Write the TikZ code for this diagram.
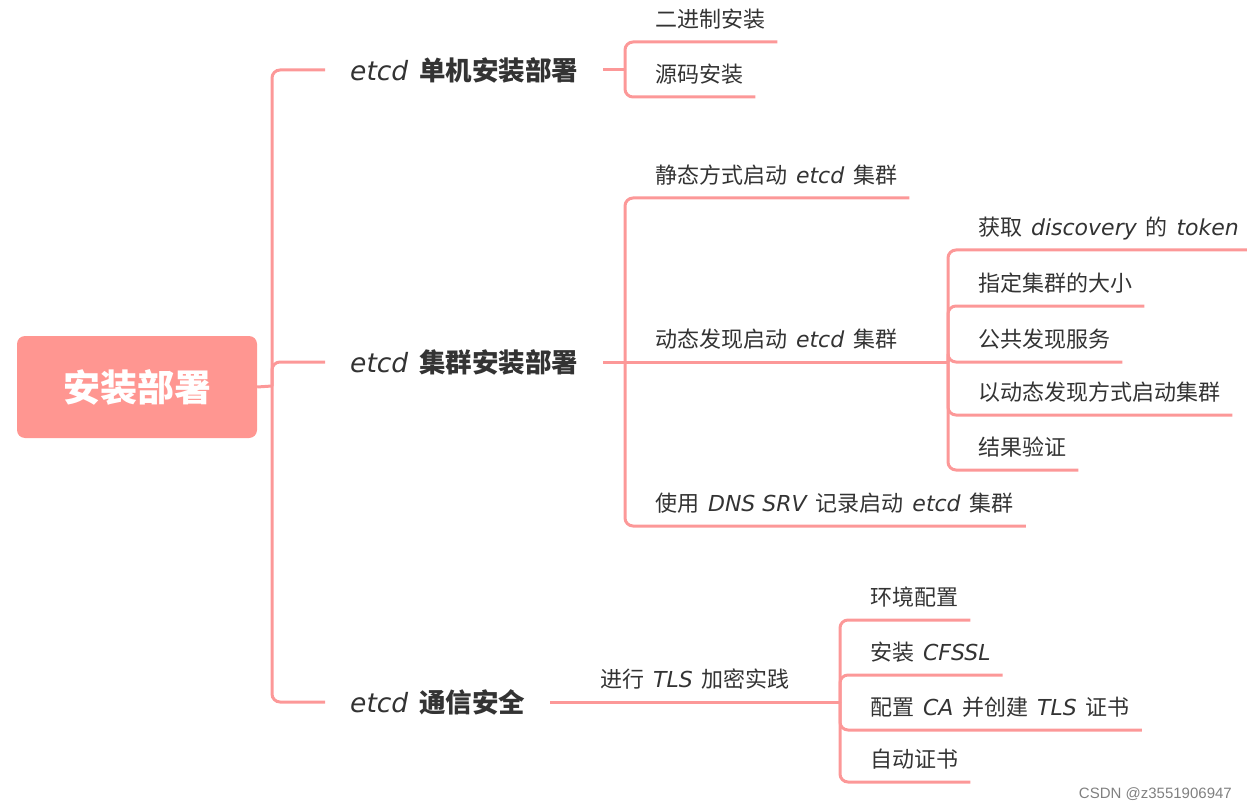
\documentclass[tikz,border=0pt]{standalone}
\usepackage{fontspec}
\setmainfont{Noto Sans CJK SC}
\newfontfamily\cjk{Noto Sans CJK SC}[WordSpace=1.8]
\newfontfamily\latin{DejaVu Sans}
\newfontfamily\wmark{Liberation Sans}
\newcommand\en[1]{{\latin\mdseries\itshape #1}}
\definecolor{linepink}{RGB}{252,152,152}
\definecolor{rootpink}{RGB}{255,150,145}
\definecolor{textgray}{RGB}{51,51,51}
\tikzset{
  branch/.style={draw=linepink, line width=3pt, rounded corners=8pt},
  leaf/.style={anchor=south west, inner xsep=12pt, inner ysep=0pt, text depth=14pt,
    font=\cjk\fontsize{22}{24}\selectfont, text=textgray},
  topic/.style={anchor=west, inner xsep=25pt, inner ysep=4pt,
    font=\cjk\bfseries\fontsize{26.5}{30}\selectfont, text=textgray},
  rootbox/.style={fill=rootpink, rounded corners=8pt, minimum width=240pt,
    minimum height=102pt, text=white, font=\cjk\bfseries\fontsize{37}{40}\selectfont}
}
\begin{document}
\begin{tikzpicture}[x=1pt, y=-1pt]
  \useasboundingbox (0,0) rectangle (1247,810);
  % root
  \node[rootbox] (root) at (137,387) {安装部署};
  % first level
  \node[topic] (single) at (325,70) {\en{etcd} 单机安装部署};
  \node[topic] (cluster) at (325,362) {\en{etcd} 集群安装部署};
  \node[topic] (secure) at (325,702) {\en{etcd} 通信安全};
  \coordinate (hub) at (272,386);
  \draw[branch] (root.east) -- (hub);
  \draw[branch] (hub) |- (single.west);
  \draw[branch] (hub) |- (cluster.west);
  \draw[branch] (hub) |- (secure.west);
  % single node install
  \coordinate (s0) at (625,70);
  \draw[branch] (single.east) -- (s0);
  \node[leaf] (binary) at (643,42) {二进制安装};
  \node[leaf] (source) at (643,97) {源码安装};
  \draw[branch] (s0) |- (binary.south east);
  \draw[branch] (s0) |- (source.south east);
  % cluster install
  \coordinate (c0) at (625,362);
  \coordinate (d0) at (948,362);
  \draw[branch] (cluster.east) -- (c0);
  \node[leaf] (static) at (643,198) {静态方式启动 \en{etcd} 集群};
  \node[leaf] (dynamic) at (643,362) {动态发现启动 \en{etcd} 集群};
  \node[leaf] (dnssrv) at (643,526) {使用 \en{DNS SRV} 记录启动 \en{etcd} 集群};
  \draw[branch] (c0) |- (static.south east);
  \draw[branch] (c0) -- (d0);
  \draw[branch] (c0) |- (dnssrv.south east);
  % dynamic discovery
  \node[leaf] (token) at (966,250) {获取 \en{discovery} 的 \en{token}};
  \node[leaf] (size) at (966,306) {指定集群的大小};
  \node[leaf] (public) at (966,362) {公共发现服务};
  \node[leaf] (boot) at (966,415) {以动态发现方式启动集群};
  \node[leaf] (verify) at (966,470) {结果验证};
  \foreach \leafname in {token,size,public,boot,verify}
    \draw[branch] (d0) |- (\leafname.south east);
  % communication security
  \coordinate (t0) at (840,702);
  \node[leaf] (tls) at (588,702) {进行 \en{TLS} 加密实践};
  \draw[branch] (secure.east) -- (t0);
  \node[leaf] (env) at (858,620) {环境配置};
  \node[leaf] (cfssl) at (858,675) {安装 \en{CFSSL}};
  \node[leaf] (cert) at (858,730) {配置 \en{CA} 并创建 \en{TLS} 证书};
  \node[leaf] (auto) at (858,782) {自动证书};
  \foreach \leafname in {env,cfssl,cert,auto}
    \draw[branch] (t0) |- (\leafname.south east);
  % watermark
  \node[anchor=east, inner sep=0pt, text=gray, font=\wmark\fontsize{15}{18}\selectfont]
    (mark) at (1232,794) {CSDN @z3551906947};
\end{tikzpicture}
\end{document}
